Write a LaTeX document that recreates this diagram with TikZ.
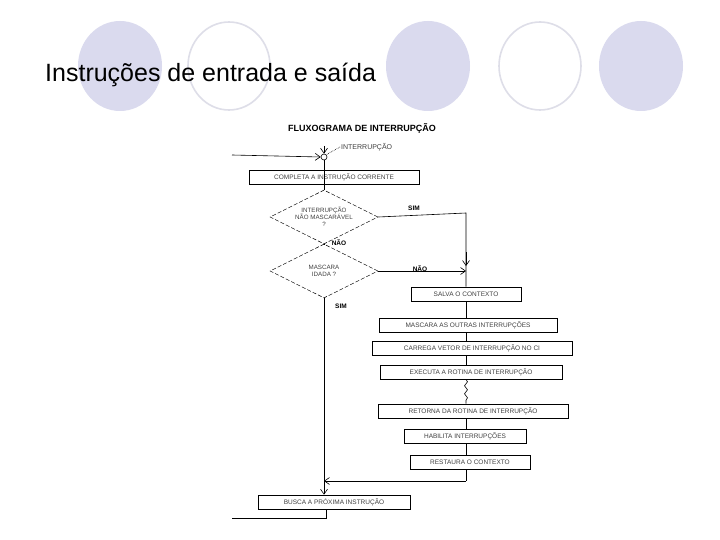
\documentclass[tikz,border=0pt]{standalone}
\usepackage{fontspec}
\setmainfont{Liberation Sans}
\usetikzlibrary{shapes.geometric,arrows.meta,decorations.pathmorphing}
\begin{document}
\begin{tikzpicture}[x=1pt,y=-1pt,
  circf/.style={fill=lav,draw=none},
  circo/.style={draw=lavline,line width=1.6pt},
  box/.style={draw,line width=0.6pt,minimum height=14pt,inner sep=1pt,font=\fontsize{6.5}{7}\selectfont,text=black!75},
  dia/.style={diamond,draw,dashed,dash pattern=on 4pt off 2pt,line width=0.5pt,aspect=2.1,minimum width=108pt,minimum height=54pt,inner sep=0pt,align=center,font=\fontsize{6.2}{7}\selectfont,text=black!75},
  lbl/.style={font=\bfseries\fontsize{6.5}{7}\selectfont},
  ln/.style={line width=0.6pt},
  arr/.style={ln,-{Straight Barb[length=5pt,width=7pt]}}]
\definecolor{lav}{RGB}{218,218,238}
\definecolor{lavline}{RGB}{222,222,232}
\useasboundingbox (0,0) rectangle (720,540);
\fill[white] (0,0) rectangle (720,540);
% decorative ellipses
\path[circf] (120,66) ellipse (42 and 45);
\path[circo] (229,66) ellipse (41 and 44);
\path[circf] (428,66) ellipse (42 and 45);
\path[circo] (540,66) ellipse (41 and 44);
\path[circf] (641,66) ellipse (42 and 45);
\node[anchor=base west,inner sep=0pt,font=\fontsize{25}{28}\selectfont] (title) at (45,82) {Instruções de entrada e saída};
% flowchart
\node[font=\bfseries\fontsize{9}{10}\selectfont] (ftitle) at (362,128) {FLUXOGRAMA DE INTERRUPÇÃO};
\node[circle,draw,ln,minimum size=6pt,inner sep=0pt] (j) at (324,157) {};
\coordinate (jin) at (232,155);
\coordinate (jtop) at (324,146);
\draw[arr] (jin) -- (j.west);
\draw[arr] (jtop) -- (j.north);
\node[anchor=west,font=\fontsize{7}{8}\selectfont,text=black!75,inner sep=1pt] (intl) at (340,147) {INTERRUPÇÃO};
\draw[densely dotted,ln] (intl.west) -- (j.north east);
\node[box,minimum width=170pt] (b1) at (334,177) {COMPLETA A INSTRUÇÃO CORRENTE};
\node[dia] (d1) at (324,217) {INTERRUPÇÃO\\NÃO MASCARÁVEL\\?};
\node[dia] (d2) at (324,271) {MASCARA\\IDADA ?};
\node[box,minimum width=110pt] (b2) at (466,294) {SALVA O CONTEXTO};
\node[box,minimum width=178pt] (b3) at (468,325) {MASCARA AS OUTRAS INTERRUPÇÕES};
\node[box,minimum width=200pt] (b4) at (472,348) {CARREGA VETOR DE INTERRUPÇÃO NO CI};
\node[box,minimum width=182pt] (b5) at (471,372) {EXECUTA A ROTINA DE INTERRUPÇÃO};
\node[box,minimum width=190pt] (b6) at (473,411) {RETORNA DA ROTINA DE INTERRUPÇÃO};
\node[box,minimum width=122pt] (b7) at (465,436) {HABILITA INTERRUPÇÕES};
\node[box,minimum width=120pt] (b8) at (470,462) {RESTAURA O CONTEXTO};
\node[box,minimum width=152pt] (b9) at (334,502) {BUSCA A PRÓXIMA INSTRUÇÃO};
\coordinate (c1) at (466,213);
\coordinate (c2) at (466,271);
\coordinate (c3) at (466,481);
\coordinate (c4) at (324,481);
\coordinate (e1) at (326,518);
\coordinate (e2) at (232,518);
\draw[ln] (j.south) -- (b1.south -| j.south) ;
\draw[ln] (b1.south -| d1.north) -- (d1.north);
\draw[ln] (d1.south) -- (d2.north);
\draw[ln] (d1.east) -- (c1) -- (b2.north);
\draw[arr] (466,252) -- (466,266);
\draw[arr] (d2.east) -- (c2);
\draw[ln] (b2.south) -- (b3.north -| b2.south);
\draw[ln] (b3.south -| b2.south) -- (b4.north -| b2.south);
\draw[ln] (b4.south -| b2.south) -- (b5.north -| b2.south);
\draw[ln,decorate,decoration={snake,amplitude=1.5pt,segment length=8pt}] (b5.south -| b2.south) -- (b6.north -| b2.south);
\draw[ln] (b6.south -| b2.south) -- (b7.north -| b2.south);
\draw[ln] (b7.south -| b2.south) -- (b8.north -| b2.south);
\draw[ln] (b8.south -| b2.south) -- (c3);
\draw[arr] (c3) -- (c4);
\draw[arr] (d2.south) -- (b9.north -| d2.south);
\draw[ln] (b9.south -| e1) -- (e1) -- (e2);
\node[lbl] (sim1) at (414,208) {SIM};
\node[lbl] (nao1) at (339,243) {NÃO};
\node[lbl] (nao2) at (420,269) {NÃO};
\node[lbl] (sim2) at (341,306) {SIM};
\end{tikzpicture}
\end{document}
